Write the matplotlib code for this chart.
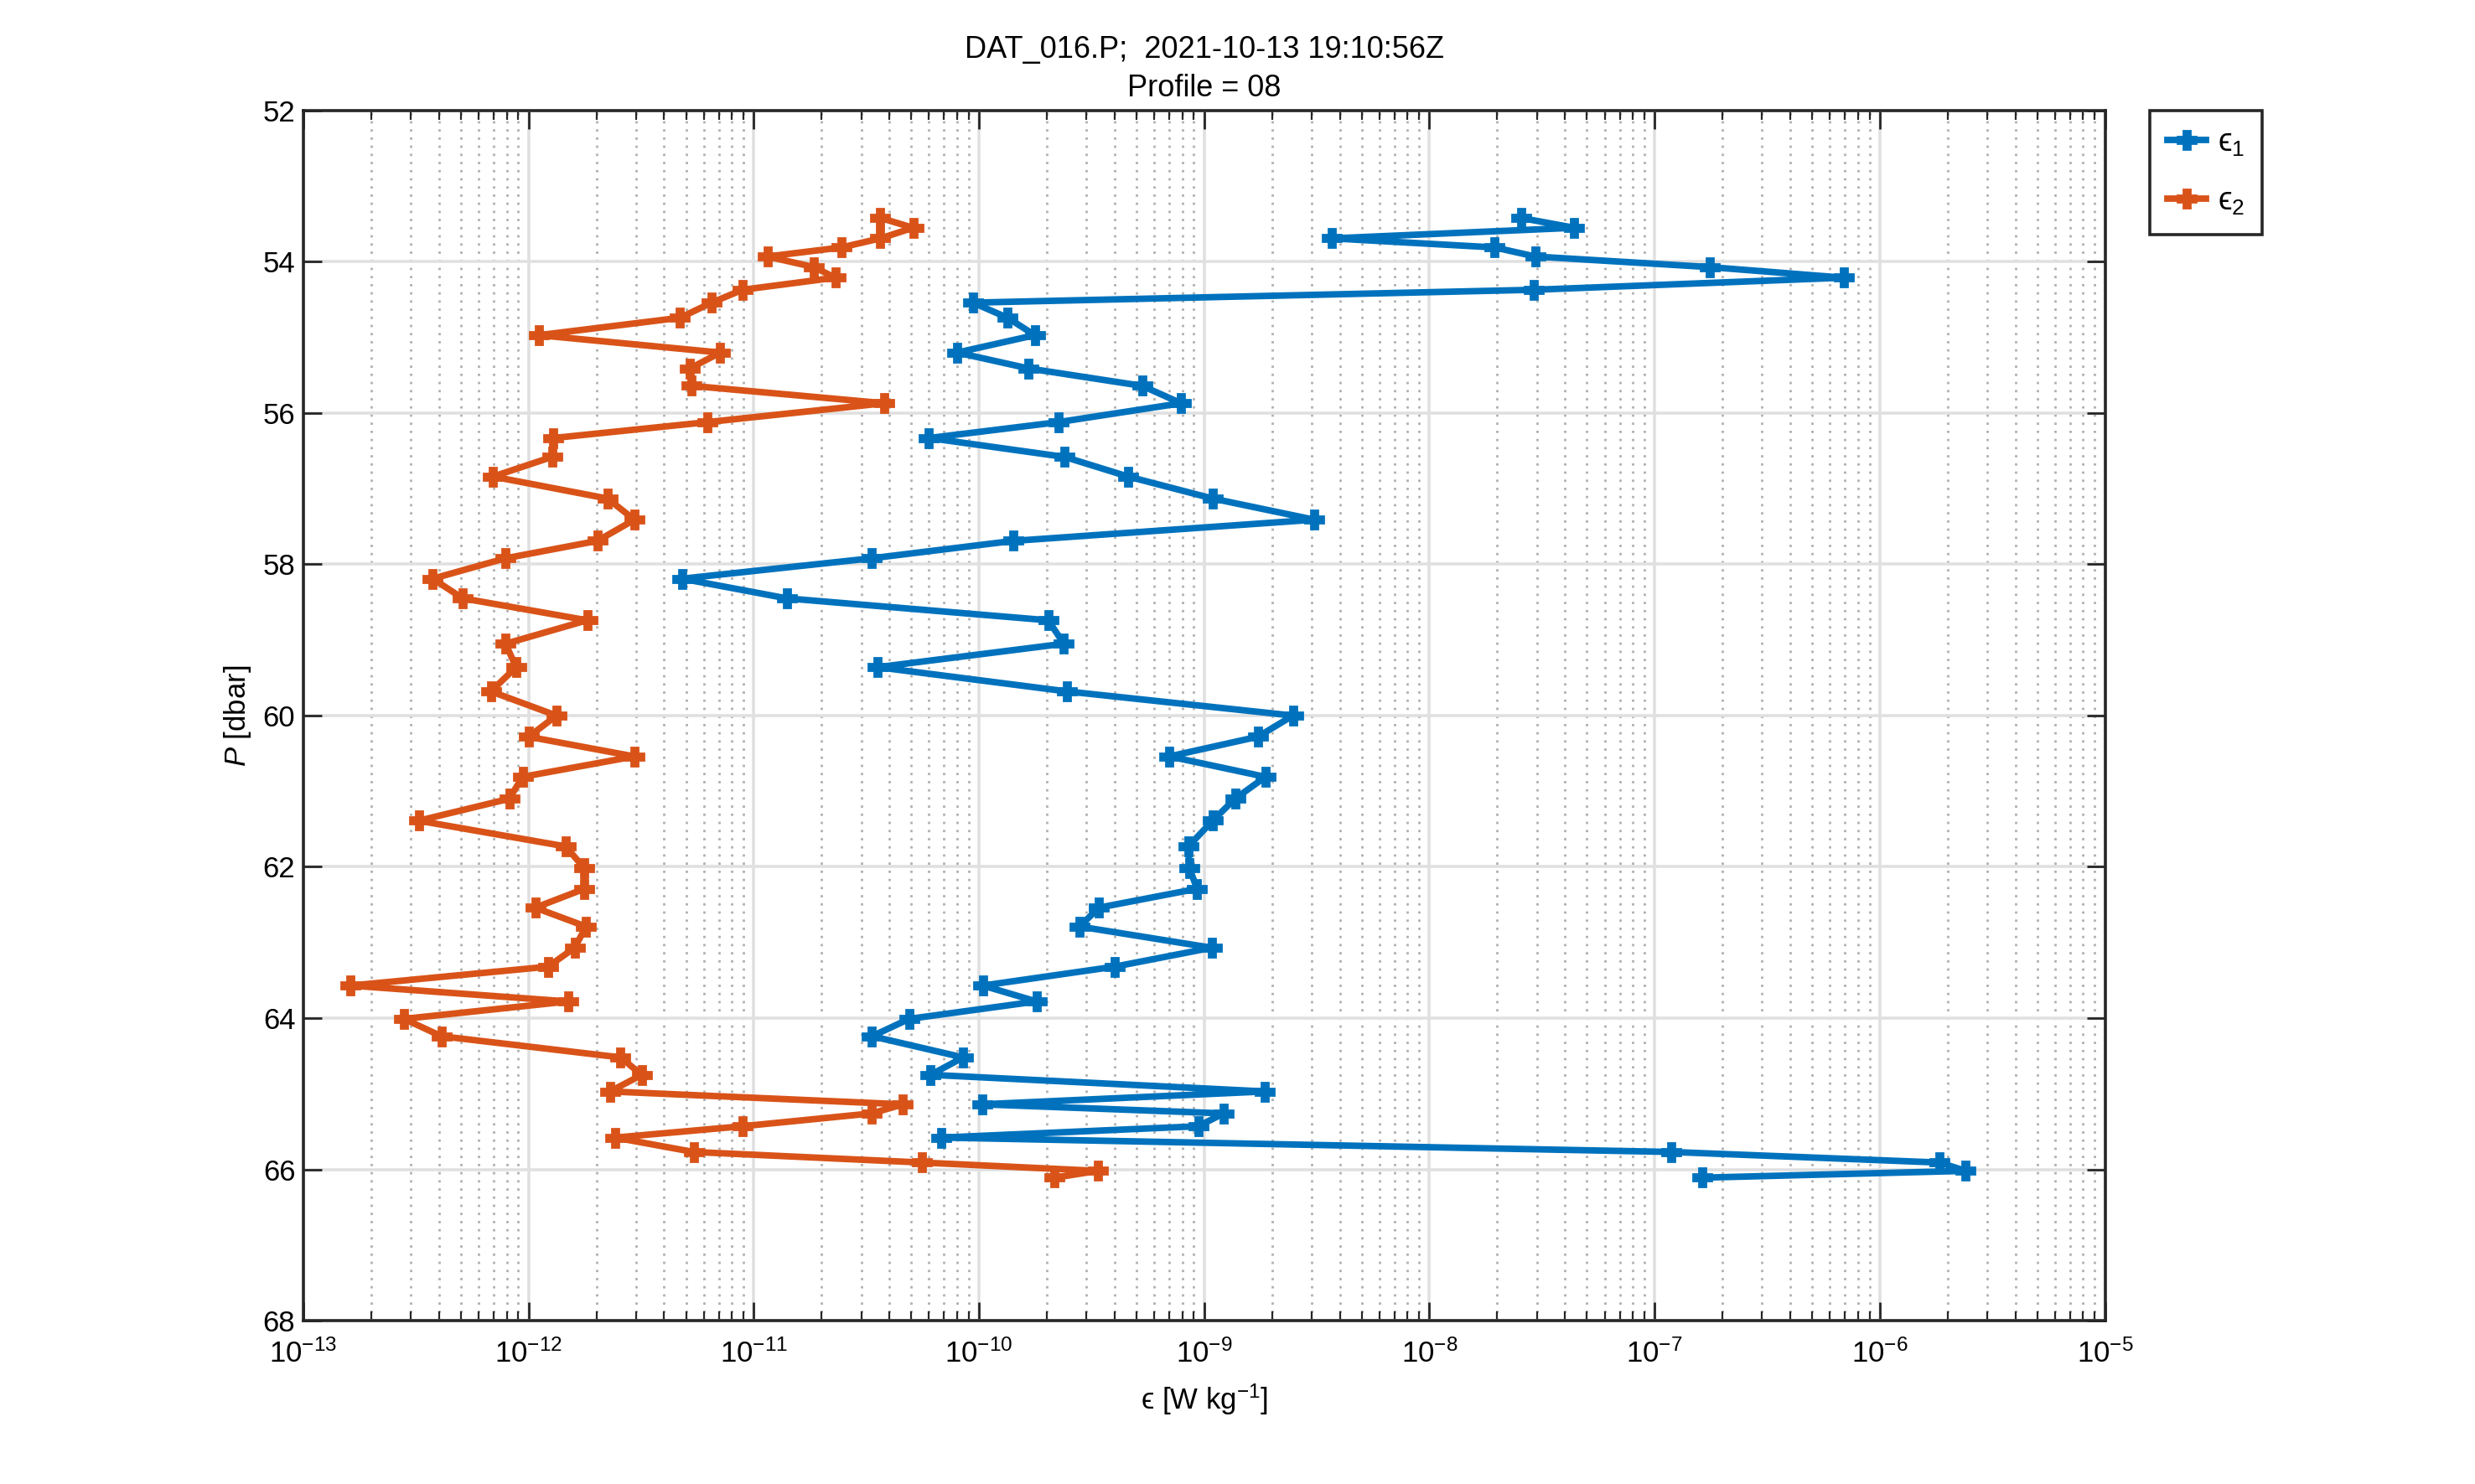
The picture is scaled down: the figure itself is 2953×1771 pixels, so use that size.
import matplotlib
matplotlib.use("Agg")
import matplotlib.pyplot as plt
import numpy as np

plt.rcParams['font.family'] = ['Liberation Sans', 'DejaVu Sans']
plt.rcParams['mathtext.fontset'] = 'custom'
plt.rcParams['mathtext.rm'] = 'Liberation Sans'
plt.rcParams['mathtext.it'] = 'Liberation Sans:italic'

# pressure levels [dbar]
P = [53.42, 53.55, 53.69, 53.81, 53.93, 54.07, 54.21, 54.37, 54.54, 54.74,
     54.97, 55.20, 55.41, 55.64, 55.87, 56.12, 56.33, 56.58, 56.84, 57.13,
     57.41, 57.69, 57.92, 58.19, 58.45, 58.74, 59.05, 59.36, 59.68, 60.00,
     60.28, 60.54, 60.81, 61.10, 61.39, 61.73, 62.02, 62.29, 62.54, 62.79,
     63.07, 63.32, 63.57, 63.78, 64.01, 64.24, 64.52, 64.75, 64.97, 65.14,
     65.26, 65.43, 65.58, 65.77, 65.91, 66.02, 66.11]

# dissipation, probe 1 [W/kg]
eps1 = [2.55e-8, 4.4e-8, 3.7e-9, 1.95e-8, 2.95e-8, 1.76e-7, 6.9e-7, 2.9e-8, 9.4e-11, 1.34e-10,
        1.77e-10, 8.0e-11, 1.66e-10, 5.3e-10, 7.9e-10, 2.25e-10, 6.0e-11, 2.4e-10, 4.6e-10, 1.09e-9,
        3.08e-9, 1.42e-10, 3.34e-11, 4.8e-12, 1.4e-11, 2.03e-10, 2.38e-10, 3.55e-11, 2.45e-10, 2.48e-9,
        1.73e-9, 7.0e-10, 1.87e-9, 1.37e-9, 1.09e-9, 8.5e-10, 8.6e-10, 9.3e-10, 3.4e-10, 2.8e-10,
        1.08e-9, 4.0e-10, 1.04e-10, 1.8e-10, 4.9e-11, 3.35e-11, 8.5e-11, 6.1e-11, 1.86e-9, 1.03e-10,
        1.22e-9, 9.4e-10, 6.8e-11, 1.19e-7, 1.84e-6, 2.41e-6, 1.63e-7]

# dissipation, probe 2 [W/kg]
eps2 = [3.65e-11, 5.1e-11, 3.65e-11, 2.45e-11, 1.15e-11, 1.85e-11, 2.3e-11, 8.9e-12, 6.5e-12, 4.7e-12,
        1.11e-12, 7.1e-12, 5.2e-12, 5.3e-12, 3.8e-11, 6.2e-12, 1.29e-12, 1.27e-12, 6.95e-13, 2.24e-12,
        2.95e-12, 2.02e-12, 7.9e-13, 3.75e-13, 5.1e-13, 1.82e-12, 7.9e-13, 8.8e-13, 6.8e-13, 1.33e-12,
        1.0e-12, 2.95e-12, 9.4e-13, 8.2e-13, 3.25e-13, 1.46e-12, 1.77e-12, 1.77e-12, 1.07e-12, 1.8e-12,
        1.6e-12, 1.22e-12, 1.62e-13, 1.5e-12, 2.8e-13, 4.1e-13, 2.56e-12, 3.18e-12, 2.3e-12, 4.6e-11,
        3.34e-11, 8.9e-12, 2.42e-12, 5.4e-12, 5.6e-11, 3.37e-10, 2.17e-10]

fig = plt.figure(figsize=(14.765, 8.855), dpi=200)
ax = fig.add_axes([0.1226, 0.1101, 0.7279, 0.8154])

ax.plot(eps1, P, color='#0072BD', lw=2.8, marker='P', ms=8, label='\u03f5$_1$')
ax.plot(eps2, P, color='#D95319', lw=2.8, marker='P', ms=8, label='\u03f5$_2$')

ax.set_xscale('log')
ax.set_xlim(1e-13, 1e-5)
ax.set_ylim(68, 52)
ax.set_yticks(np.arange(52, 69, 2))
ax.xaxis.set_major_locator(matplotlib.ticker.LogLocator(base=10, numticks=20))
ax.xaxis.set_minor_locator(matplotlib.ticker.LogLocator(base=10, subs=np.arange(2, 10), numticks=20))

# grid: solid majors, dotted x minors
ax.set_axisbelow(True)
ax.grid(which='major', color='#e0e0e0', lw=1.3)
ax.xaxis.grid(which='minor', color='#b0b0b0', lw=1.0, linestyle=(0, (1, 2.5)))

ax.tick_params(which='both', direction='in', top=True, right=True, labelsize=12.5, color='#262626')
ax.tick_params(which='major', length=8, width=1.0)
ax.tick_params(which='minor', length=4, width=0.8)
ax.tick_params(axis='x', pad=8)
for s in ax.spines.values():
    s.set_linewidth(1.3)
    s.set_color('#262626')

ax.set_xlabel('\u03f5 [W kg$^{-1}$]', fontsize=12.5, labelpad=6)
ax.set_ylabel(r'$P$ [dbar]', fontsize=12.5, labelpad=4)
ax.set_title('DAT_016.P;  2021-10-13 19:10:56Z\nProfile = 08', fontsize=13, pad=6, linespacing=1.4)

leg = ax.legend(loc='upper left', bbox_to_anchor=(0.8686, 0.9255), bbox_transform=fig.transFigure,
                fancybox=False, framealpha=1, edgecolor='#262626', fontsize=13.5,
                handlelength=1.25, borderaxespad=0, borderpad=0.55, labelspacing=0.9, handletextpad=0.35)
leg.get_frame().set_linewidth(1.3)

fig.savefig('out.png', dpi=200)
